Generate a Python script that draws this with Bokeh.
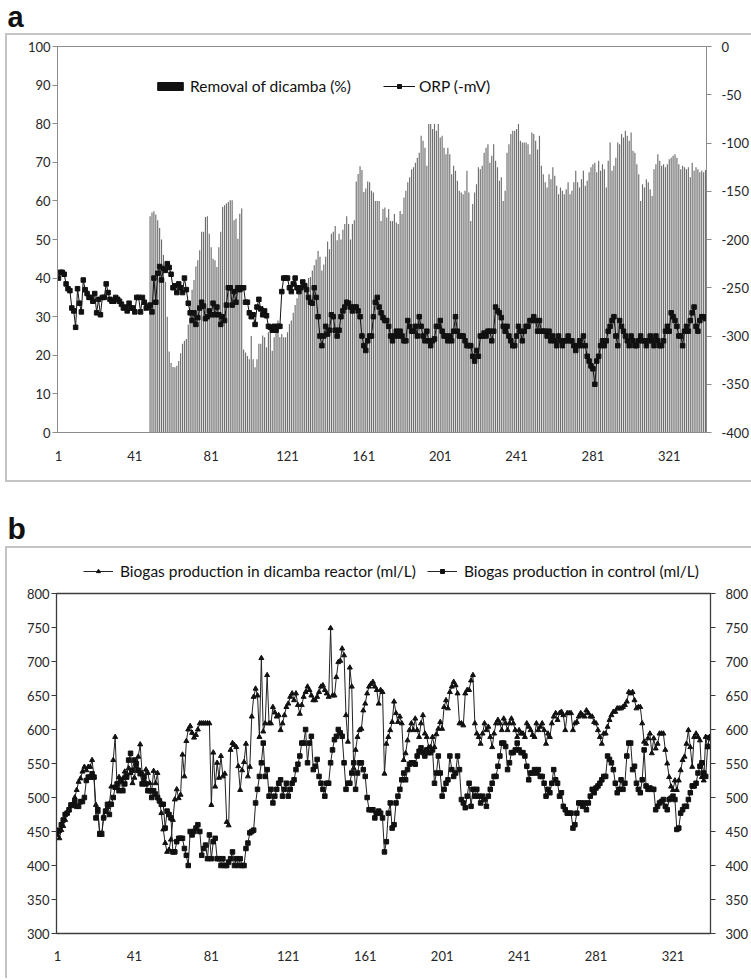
from bokeh.plotting import figure
from bokeh.models import (Range1d, LinearAxis, FixedTicker, Label,
                          Legend, LegendItem, ColumnDataSource)
from bokeh.layouts import column
from bokeh.embed import file_html
from bokeh.resources import INLINE

# ---------------- data ----------------
days = list(range(1, 341))
removal_days = list(range(49, 341))
x_ticks = [1, 41, 81, 121, 161, 201, 241, 281, 321]
removal_ticks = [0, 10, 20, 30, 40, 50, 60, 70, 80, 90, 100]
orp_ticks = [0, -50, -100, -150, -200, -250, -300, -350, -400]
biogas_ticks = [300, 350, 400, 450, 500, 550, 600, 650, 700, 750, 800]

# Removal of dicamba (%) from day 49 to day 340
removal = [
    56, 57, 57.3, 56.5, 55, 53, 50, 46, 39, 30,
    21, 18, 17, 16.9, 17.3, 18.5, 20.5, 23, 23.8, 24.2,
    28, 33, 37, 39.5, 43, 44.6, 47.2, 52, 52, 55.8,
    56, 51.5, 48, 45, 44.6, 42.9, 48, 52, 58.4, 58.9,
    59.3, 59.7, 60.2, 60.2, 55, 55.4, 50.2, 56.7, 58, 21.5,
    20.7, 19.8, 19, 25, 19, 16.9, 19, 23, 23, 25.1,
    24.7, 22.1, 26, 26, 21.2, 24.7, 28.1, 29, 24.7, 25.5,
    24.7, 24.7, 26, 28.1, 29, 31, 33, 34.8, 36.2, 36.8,
    37.7, 38, 38.8, 40, 40.3, 42, 43.3, 44.8, 47, 45.5,
    42, 43.5, 45.5, 49.5, 47.5, 51.5, 52, 53.5, 49.8, 51.5,
    50, 52.5, 54, 56, 54, 50, 54, 55, 65, 67,
    69, 68, 62.3, 63.2, 65, 64.8, 62.6, 62.2, 60, 60,
    60, 54.8, 57.9, 58.3, 55.7, 57.9, 54.8, 54.8, 56.6, 54.4,
    54, 57.4, 56.6, 60.9, 62.6, 64.8, 66.1, 68.2, 68.7, 69.9,
    71.2, 72.5, 76.9, 75.6, 73.8, 69.1, 79.9, 79.9, 78.6, 79.9,
    78.2, 79.9, 76.4, 76.9, 73.8, 72.1, 73.8, 72.1, 66.9, 69.1,
    67.8, 65.2, 62.6, 62.2, 61.7, 62.6, 67.8, 62.2, 54.8, 59.2,
    62.2, 64.3, 68.7, 68.2, 69.1, 72.5, 73.8, 74.7, 69.9, 71.7,
    74.7, 70.4, 68.7, 65.2, 66.1, 60, 62.6, 72.5, 74.7, 77.3,
    78.2, 78.2, 78.6, 79.9, 75.6, 75.1, 75.1, 75.1, 74.7, 72.1,
    77.7, 77.3, 75.6, 73.3, 76.9, 69.1, 66.9, 64.8, 63.5, 66.9,
    65.6, 68.7, 66.5, 63.9, 61.7, 63.5, 62.6, 61.7, 63, 64.8,
    61.7, 62.6, 64.8, 67.8, 64.8, 63.5, 65.6, 67.8, 63.9, 65.2,
    67.4, 68.7, 69.5, 69.9, 67.4, 70.4, 67.8, 69.5, 68.2, 63.5,
    70.4, 75.1, 67.8, 69.1, 71.2, 75.1, 74.7, 77.3, 76.4, 78.2,
    76.9, 75.6, 77.7, 73, 72.5, 69.5, 66.9, 60, 64.3, 63.5,
    65.6, 64.8, 63, 61.3, 68.2, 69.5, 72.1, 70.4, 69.1, 69.5,
    68.7, 69.5, 70.8, 71.2, 71.7, 72.1, 71.2, 69.5, 68.2, 69.1,
    68.7, 68.2, 68.7, 66.1, 69.9, 67.8, 68.7, 68.2, 67.4, 67.8,
    67.4, 68,
]

# ORP (mV), day 1 to day 340
orp = [
    -240, -234, -234, -236, -246, -251, -253, -271, -274, -291,
    -251, -266, -275, -242, -252, -256, -260, -260, -264, -256,
    -276, -262, -278, -260, -260, -246, -255, -262, -264, -264,
    -260, -262, -264, -267, -271, -270, -274, -266, -271, -271,
    -275, -260, -260, -275, -260, -265, -271, -270, -268, -275,
    -240, -265, -235, -228, -242, -230, -232, -225, -229, -236,
    -250, -248, -255, -246, -250, -255, -240, -252, -266, -276,
    -284, -276, -288, -281, -271, -265, -269, -282, -280, -274,
    -278, -266, -278, -270, -278, -288, -280, -284, -268, -250,
    -250, -268, -254, -265, -250, -252, -250, -250, -265, -265,
    -276, -280, -278, -288, -270, -262, -272, -278, -274, -279,
    -290, -291, -294, -290, -294, -290, -290, -254, -240, -240,
    -240, -250, -254, -246, -240, -250, -254, -250, -244, -248,
    -252, -260, -265, -266, -250, -260, -280, -300, -310, -300,
    -290, -298, -294, -278, -280, -294, -300, -294, -280, -274,
    -270, -265, -266, -270, -274, -270, -270, -274, -280, -300,
    -310, -315, -305, -300, -300, -280, -265, -260,
    -270, -276, -281, -284, -284, -290, -300, -305, -300, -295,
    -300, -295, -300, -305, -305, -284, -290, -295, -295, -290,
    -300, -280, -290, -300, -305, -295, -305, -310, -305, -303,
    -290, -290, -284, -295, -300, -300, -305, -300, -305, -295,
    -280, -295, -300, -300, -300, -305, -310, -310, -310, -321,
    -326, -315, -321, -300, -300, -297, -300, -295, -295, -305,
    -295, -270, -274, -276, -281, -290, -295, -290, -300, -305,
    -310, -310, -300, -290, -295, -305, -295, -290, -290, -284,
    -284, -280, -284, -295, -284, -295, -295, -295, -300, -295,
    -305, -300, -305, -310, -300, -305, -310, -305, -305, -300,
    -305, -305, -310, -315, -310, -305, -310, -300, -310, -321,
    -326, -331, -334, -350, -326, -321, -310, -305, -310, -305,
    -295, -290, -284, -280, -300, -310, -284, -290, -295, -300,
    -305, -310, -300, -305, -310, -310, -305, -300, -305, -305,
    -310, -305, -300, -305, -310, -300, -305, -310, -310, -305,
    -295, -290, -295, -276, -280, -284, -290, -300, -300, -310,
    -295, -290, -295, -284, -276, -270, -290, -295, -284, -280,
    -280, -282,
]

# Biogas production in dicamba reactor (ml/L)
biogas_dicamba = [
    445, 440, 452, 458, 467, 477, 481, 487, 491, 500,
    511, 523, 528, 538, 545, 540, 545, 545, 555, 530,
    489, 479, 445, 445, 472, 479, 486, 491, 516, 555,
    589, 514, 530, 523, 528, 538, 535, 543, 536, 521,
    529, 546, 560, 578, 536, 526, 541, 536, 521, 509,
    539, 521, 536, 497, 477, 453, 433, 420, 423, 438,
    467, 497, 512, 499, 504, 563, 531, 583, 600, 605,
    595, 588, 592, 600, 609, 609, 609, 609, 609, 609,
    489, 566, 516, 551, 529, 561, 531, 535, 464, 459,
    570, 580, 577, 574, 546, 511, 540, 552, 579, 531,
    545, 619, 648, 660, 650, 589, 705, 597, 609, 680,
    609, 609, 633, 625, 619, 621, 599, 609, 621, 633,
    638, 648, 653, 643, 653, 636, 623, 636, 648, 655,
    663, 658, 650, 643, 643, 648, 655, 663, 665, 658,
    653, 648, 749, 650, 650, 677, 699, 701, 719, 709,
    621, 582, 691, 663, 543, 570, 589, 599, 601, 628,
    638, 653, 663, 667, 670, 663, 658, 638, 658, 655,
    535, 579, 589, 599, 611, 641, 624, 611, 619, 609,
    555, 565, 584, 599, 609, 599, 616, 599, 589, 609,
    621, 594, 589, 574, 574, 589, 574, 593, 601, 611,
    601, 633, 643, 631, 655, 663, 670, 665, 653, 609,
    609, 606, 653, 658, 658, 672, 680, 609, 594, 589,
    579, 594, 609, 599, 604, 589, 574, 594, 609, 614,
    609, 599, 616, 609, 599, 609, 616, 609, 599, 589,
    599, 594, 594, 589, 609, 604, 599, 592, 589, 609,
    599, 604, 609, 599, 579, 594, 589, 609, 619, 624,
    614, 624, 626, 621, 599, 624, 624, 624, 599, 609,
    611, 619, 624, 621, 619, 628, 624, 619, 619, 611,
    609, 599, 589, 579, 594, 594, 604, 614, 621, 626,
    626, 631, 631, 631, 633, 636, 641, 655, 653, 655,
    643, 631, 633, 633, 609, 582, 579, 587, 594, 565,
    587, 572, 579, 594, 594, 594, 570, 550, 530, 516,
    511, 525, 511, 525, 540, 555, 560, 579, 599, 574,
    545, 589, 594, 589, 584, 530, 525, 589, 574, 589,
]

# Biogas production in control (ml/L)
biogas_control = [
    450, 452, 460, 467, 475, 477, 482, 489, 489, 494,
    487, 487, 494, 494, 500, 525, 530, 530, 535, 530,
    470, 482, 447, 447, 470, 480, 490, 475, 490, 500,
    515, 520, 510, 525, 510, 520, 530, 555, 565, 540,
    555, 550, 540, 535, 520, 530, 520, 510, 510, 500,
    510, 505, 500, 495, 490, 490, 455, 480, 475, 470,
    420, 420, 435, 440, 440, 440, 425, 415, 400, 450,
    445, 450, 455, 460, 450, 415, 425, 430, 410, 445,
    410, 435, 440, 410, 410, 400, 410, 400, 400, 405,
    410, 420, 400, 410, 400, 410, 400, 400, 425, 433,
    448, 450, 452, 492, 512, 531, 551, 580, 531, 541,
    502, 512, 492, 502, 512, 521, 526, 502, 512, 521,
    502, 512, 521, 526, 541, 549, 561, 580, 580, 600,
    551, 580, 590, 541, 546, 556, 531, 521, 512, 502,
    521, 521, 551, 570, 585, 590, 600, 595, 590, 551,
    512, 521, 521, 536, 551, 512, 536, 551, 551, 541,
    531, 500, 482, 482, 482, 470, 477, 480, 477, 470,
    420, 435, 477, 492, 455, 460, 492, 502, 512, 526,
    536, 526, 541, 549, 551, 551, 549, 561, 568, 573,
    566, 561, 570, 566, 566, 570, 521, 536, 561, 536,
    502, 512, 521, 526, 561, 541, 531, 536, 561, 541,
    497, 492, 485, 502, 521, 487, 512, 502, 512, 502,
    492, 502, 497, 487, 502, 512, 521, 531, 531, 546,
    561, 580, 580, 575, 541, 551, 566, 566, 570, 580,
    570, 566, 566, 561, 546, 526, 536, 536, 541, 536,
    541, 531, 531, 521, 502, 512, 507, 521, 541, 526,
    521, 502, 507, 487, 482, 477, 477, 477, 455, 460,
    477, 492, 492, 487, 492, 482, 492, 502, 512, 507,
    514, 517, 521, 526, 531, 531, 561, 556, 551, 541,
    521, 507, 512, 526, 512, 521, 561, 580, 580, 541,
    546, 521, 512, 507, 526, 570, 517, 512, 514, 512,
    512, 482, 487, 492, 494, 497, 487, 482, 497, 499,
    502, 497, 453, 455, 477, 482, 487, 487, 497, 507,
    517, 517, 521, 536, 546, 551, 536, 531, 575, 588,
]

assert len(removal) == len(removal_days)
assert len(orp) == len(days)
assert len(biogas_dicamba) == len(days)
assert len(biogas_control) == len(days)

# ---------------- styling ----------------
FONT = "Lato"
TXT = "#262626"
GRAY_AX = "#8c8c8c"
DARK_AX = "#3c3c3c"
BOX = "#c4c4c4"
BOX_CSS = "2px solid " + BOX


def style_axis(ax, color, standoff, tick_out=5):
    ax.axis_line_color = color
    ax.major_tick_line_color = color
    ax.minor_tick_line_color = None
    ax.major_tick_in = 0
    ax.major_tick_out = tick_out
    ax.major_label_standoff = standoff
    ax.major_label_text_font = FONT
    ax.major_label_text_font_size = "13px"
    ax.major_label_text_color = TXT


def bare_fig(width, height):
    f = figure(width=width, height=height, x_range=Range1d(0, width), y_range=Range1d(0, height),
               output_backend="svg", toolbar_location=None, min_border=0, title=None,
               x_axis_location=None, y_axis_location=None)
    f.min_border_left = 0
    f.min_border_right = 0
    f.min_border_top = 0
    f.min_border_bottom = 0
    f.grid.visible = False
    f.outline_line_color = None
    return f


def letter_fig(letter, height, middle_from_bottom, size):
    f = bare_fig(60, height)
    f.add_layout(Label(x=7, y=middle_from_bottom, x_units="screen", y_units="screen",
                       text=letter, text_font="Liberation Sans", text_font_style="bold",
                       text_font_size=size, text_baseline="middle",
                       text_color="#111111"))
    return f


# ---------------- panel a ----------------
pa = figure(width=744, height=445, x_range=Range1d(0.5, 340.5), y_range=Range1d(0, 100),
            output_backend="svg", toolbar_location=None,
            min_border_left=50, min_border_right=42, min_border_top=11, min_border_bottom=48)
pa.grid.visible = False
pa.outline_line_color = GRAY_AX
pa.outline_line_width = 1

pa.extra_y_ranges = {"orp": Range1d(-400, 0)}

src_rem = ColumnDataSource(dict(day=removal_days, removal=removal))
pa.vbar(x="day", top="removal", bottom=0, width=0.6, source=src_rem,
        fill_color="#6e6e6e", line_color=None)
# legend proxy (a zero-height bar outside the visible x range) for the black swatch
legend_bar = pa.vbar(x=[0], top=[0], width=0.5, fill_color="#111111", line_color="#111111")

src_orp = ColumnDataSource(dict(day=days, orp=orp))
orp_line = pa.line(x="day", y="orp", source=src_orp, y_range_name="orp",
                   line_color="#111111", line_width=1)
orp_pts = pa.scatter(x="day", y="orp", source=src_orp, y_range_name="orp", marker="square",
                     size=4.5, fill_color="#111111", line_color="#111111")

pa.xaxis.ticker = FixedTicker(ticks=x_ticks)
style_axis(pa.xaxis[0], GRAY_AX, 18, tick_out=0)
pa.yaxis.ticker = FixedTicker(ticks=removal_ticks)
style_axis(pa.yaxis[0], GRAY_AX, 2)

ax_orp = LinearAxis(y_range_name="orp", ticker=FixedTicker(ticks=orp_ticks),
                    major_label_overrides={t: str(t) for t in orp_ticks})
style_axis(ax_orp, GRAY_AX, 10)
pa.add_layout(ax_orp, "right")

leg_a = Legend(items=[LegendItem(label="Removal of dicamba (%)", renderers=[legend_bar]),
                      LegendItem(label="ORP (-mV)", renderers=[orp_line, orp_pts])],
               orientation="horizontal", location=(97, 337),
               glyph_width=32, glyph_height=10, label_height=10, label_standoff=4, spacing=32,
               padding=0, margin=0, background_fill_alpha=0, border_line_alpha=0,
               label_text_font=FONT, label_text_font_size="15.5px", label_text_color="#111111")
pa.add_layout(leg_a)

# ---------------- panel b ----------------
pb = figure(width=744, height=393, x_range=Range1d(0.5, 340.5), y_range=Range1d(300, 800),
            output_backend="svg", toolbar_location=None,
            min_border_left=49, min_border_right=41, min_border_top=8, min_border_bottom=45)
pb.grid.visible = False
pb.outline_line_color = DARK_AX
pb.outline_line_width = 1.3
pb.extra_y_ranges = {"right": Range1d(300, 800)}

src_b = ColumnDataSource(dict(day=days, dicamba=biogas_dicamba, control=biogas_control))
pb.line(x="day", y="dicamba", source=src_b, line_color="#222222", line_width=1)
pb.scatter(x="day", y="dicamba", source=src_b, marker="triangle", size=5,
           fill_color="#111111", line_color="#111111")
pb.line(x="day", y="control", source=src_b, line_color="#222222", line_width=1)
pb.scatter(x="day", y="control", source=src_b, marker="square", size=4.5,
           fill_color="#111111", line_color="#111111")

pb.xaxis.ticker = FixedTicker(ticks=x_ticks)
style_axis(pb.xaxis[0], DARK_AX, 17, tick_out=0)
pb.yaxis.ticker = FixedTicker(ticks=biogas_ticks)
style_axis(pb.yaxis[0], DARK_AX, 2)
ax_rb = LinearAxis(y_range_name="right", ticker=FixedTicker(ticks=biogas_ticks))
style_axis(ax_rb, DARK_AX, 10)
pb.add_layout(ax_rb, "right")

# legend strip above panel b (its frame is aligned with panel b's frame by the column;
# legend swatches are drawn by off-range proxy glyphs)
lf_b = bare_fig(744, 37)
pl_d = lf_b.line(x=[-20, -10], y=[-20, -20], line_color="#222222", line_width=1)
ps_d = lf_b.scatter(x=[-20], y=[-20], marker="triangle", size=5,
                    fill_color="#111111", line_color="#111111")
pl_c = lf_b.line(x=[-20, -10], y=[-20, -20], line_color="#222222", line_width=1)
ps_c = lf_b.scatter(x=[-20], y=[-20], marker="square", size=4.5,
                    fill_color="#111111", line_color="#111111")
leg_b = Legend(items=[LegendItem(label="Biogas production in dicamba reactor (ml/L)", renderers=[pl_d, ps_d]),
                      LegendItem(label="Biogas production in control (ml/L)", renderers=[pl_c, ps_c])],
               orientation="horizontal", location=(27, 5),
               glyph_width=30, glyph_height=10, label_height=10, label_standoff=7, spacing=11,
               padding=0, margin=0, background_fill_alpha=0, border_line_alpha=0,
               label_text_font=FONT, label_text_font_size="15.5px", label_text_color="#111111")
lf_b.add_layout(leg_b)

# ---------------- page ----------------
lab_a = letter_fig("a", 33, 16.5, "29px")
lab_b = letter_fig("b", 64, 18.4, "30px")
box_a = column(pa, styles={"margin-left": "5px", "border-top": BOX_CSS,
                           "border-left": BOX_CSS, "border-bottom": BOX_CSS})
box_b = column(lf_b, pb, spacing=0, styles={"margin-left": "5px", "border-top": BOX_CSS,
                                            "border-left": BOX_CSS})

layout = column(lab_a, box_a, lab_b, box_b, spacing=0)
open("out.html", "w").write(file_html(layout, INLINE))
